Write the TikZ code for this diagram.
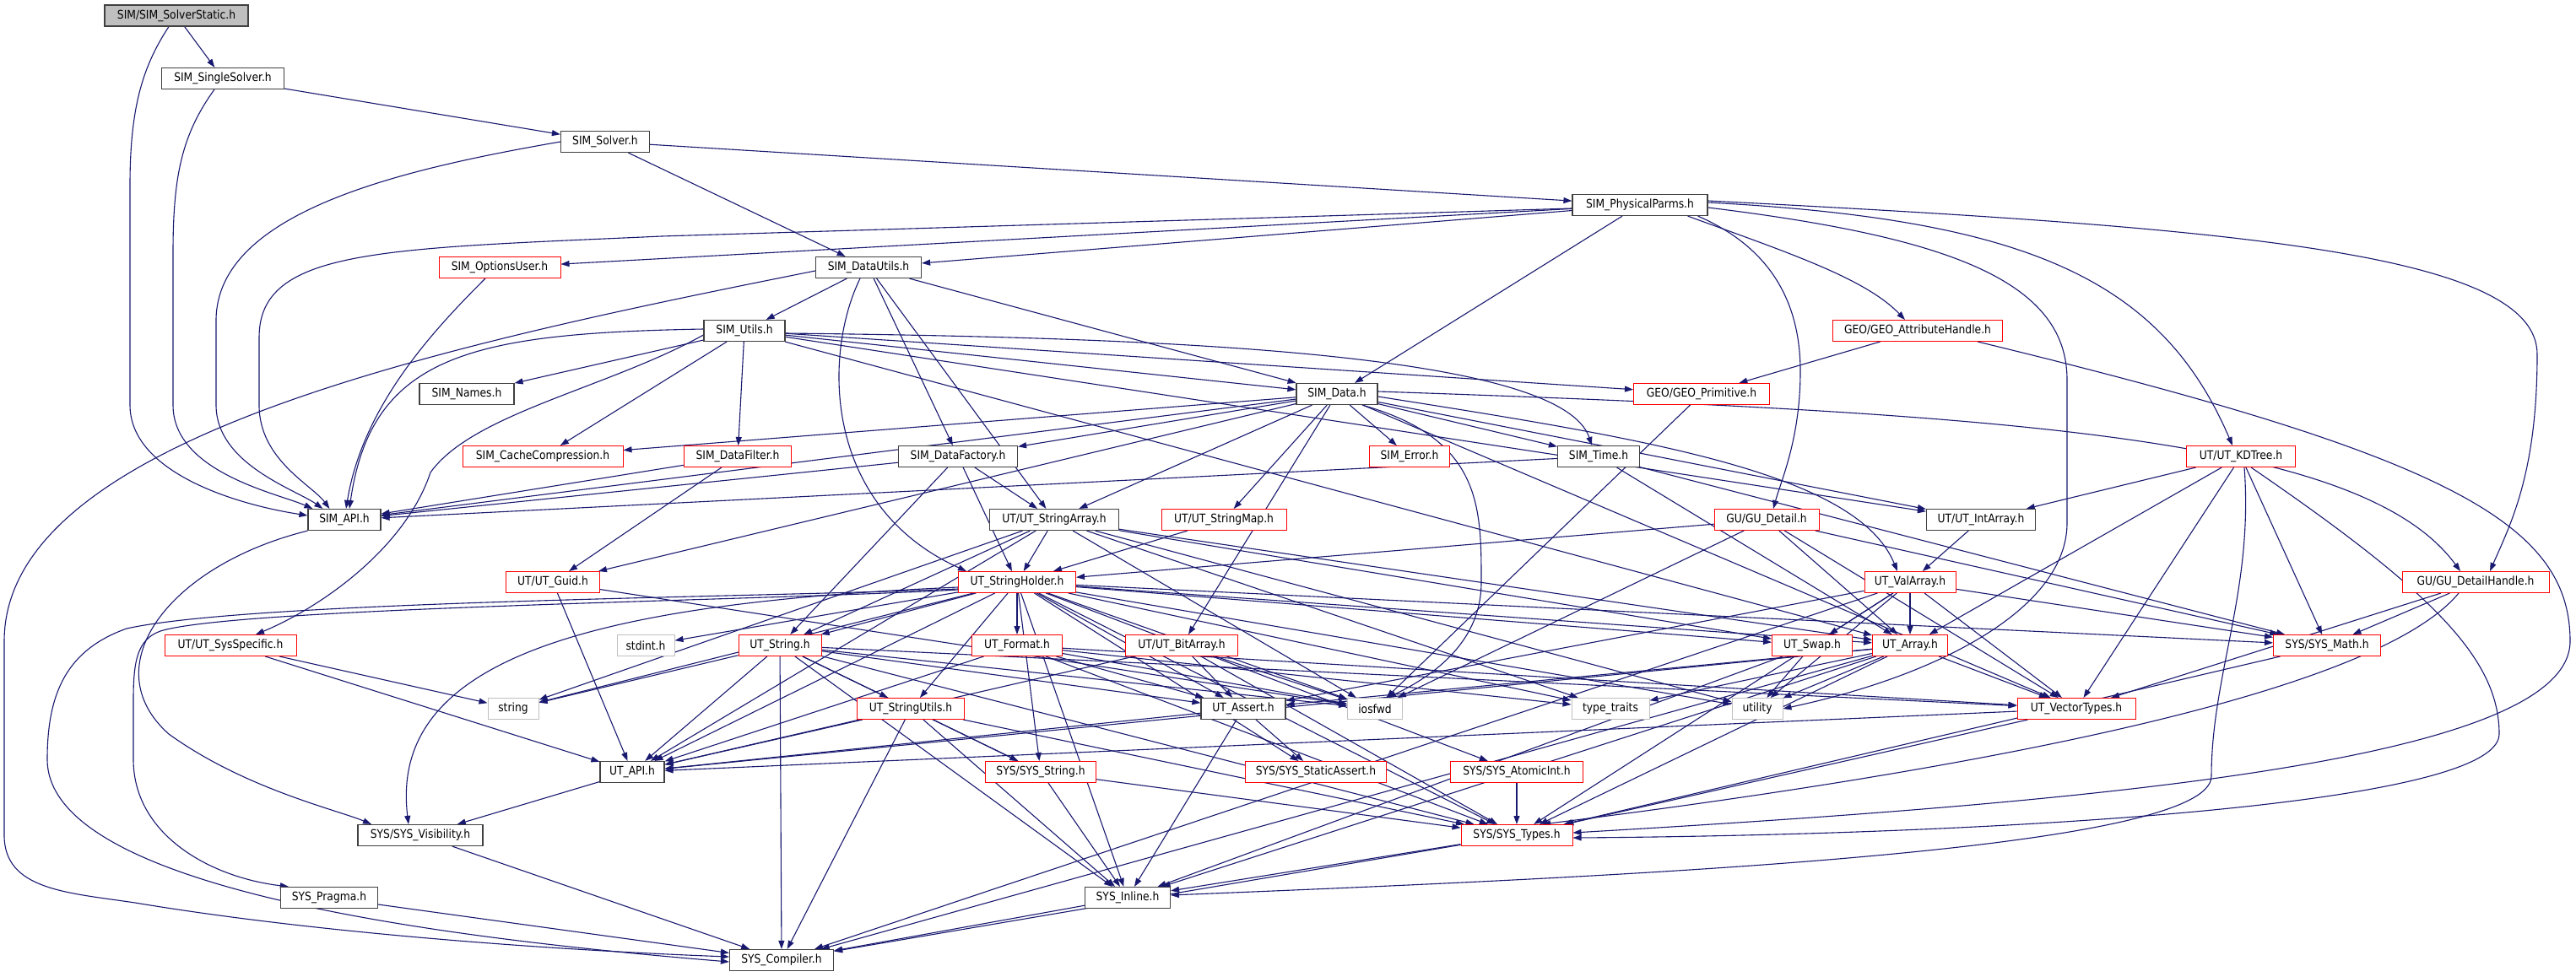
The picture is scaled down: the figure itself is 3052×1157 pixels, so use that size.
\documentclass[tikz,border=0pt]{standalone}
\usepackage{fontspec}
\setmainfont{DejaVu Sans}[FakeStretch=0.88]
\usetikzlibrary{arrows.meta}
\definecolor{edgec}{RGB}{25,25,112}
\definecolor{rootfill}{RGB}{191,191,191}
\definecolor{nodeb}{RGB}{64,64,64}
\definecolor{greyb}{RGB}{191,191,191}
\pgfdeclarelayer{bg}
\pgfsetlayers{bg,main}
\begin{document}
\begin{tikzpicture}[x=1pt,y=-1pt,
  >={Triangle[length=10pt,width=7pt]},
  e/.style={draw=edgec,line width=1.1pt,->},
  nb/.style={draw=nodeb,line width=1.2pt,fill=white,minimum height=25pt,inner sep=0pt,font=\fontsize{14}{16}\selectfont},
  nr/.style={nb,draw=red,line width=1pt},
  ng/.style={nb,draw=greyb,line width=1pt},
  nroot/.style={nb,fill=rootfill}]
\useasboundingbox (0,0) rectangle (3052,1157);
% nodes
\node[nroot,minimum width=170pt] (ss) at (209,18.5) {SIM/SIM\_SolverStatic.h};
\node[nb,minimum width=145pt] (single) at (264,93) {SIM\_SingleSolver.h};
\node[nb,minimum width=105pt] (solver) at (717,168) {SIM\_Solver.h};
\node[nb,minimum width=160pt] (phys) at (1943,243) {SIM\_PhysicalParms.h};
\node[nr,minimum width=144pt] (opt) at (592,317) {SIM\_OptionsUser.h};
\node[nb,minimum width=125pt] (du) at (1029,317) {SIM\_DataUtils.h};
\node[nb,minimum width=96pt] (utils) at (882,392) {SIM\_Utils.h};
\node[nr,minimum width=201pt] (gah) at (2272,392) {GEO/GEO\_AttributeHandle.h};
\node[nb,minimum width=112pt] (names) at (553,467) {SIM\_Names.h};
\node[nb,minimum width=96pt] (data) at (1584,467) {SIM\_Data.h};
\node[nr,minimum width=161pt] (gprim) at (2016,467) {GEO/GEO\_Primitive.h};
\node[nr,minimum width=190pt] (cache) at (643,541) {SIM\_CacheCompression.h};
\node[nr,minimum width=127pt] (filter) at (874,541) {SIM\_DataFilter.h};
\node[nb,minimum width=141pt] (factory) at (1135,541) {SIM\_DataFactory.h};
\node[nr,minimum width=95pt] (err) at (1670,541) {SIM\_Error.h};
\node[nb,minimum width=97pt] (time) at (1894,541) {SIM\_Time.h};
\node[nr,minimum width=129pt] (kd) at (2655,541) {UT/UT\_KDTree.h};
\node[nb,minimum width=86pt] (api) at (408,616) {SIM\_API.h};
\node[nb,minimum width=153pt] (sarr) at (1249,616) {UT/UT\_StringArray.h};
\node[nr,minimum width=148pt] (smap) at (1450,616) {UT/UT\_StringMap.h};
\node[nr,minimum width=124pt] (gud) at (2093,616) {GU/GU\_Detail.h};
\node[nb,minimum width=129pt] (iarr) at (2347,616) {UT/UT\_IntArray.h};
\node[nr,minimum width=111pt] (guid) at (655,690) {UT/UT\_Guid.h};
\node[nr,minimum width=139pt] (sh) at (1205,690) {UT\_StringHolder.h};
\node[nr,minimum width=108pt] (varr) at (2263,690) {UT\_ValArray.h};
\node[nr,minimum width=174pt] (gudh) at (2933,690) {GU/GU\_DetailHandle.h};
\node[nr,minimum width=156pt] (sysspec) at (273,765) {UT/UT\_SysSpecific.h};
\node[ng,minimum width=68pt] (stdint) at (765,765) {stdint.h};
\node[nr,minimum width=98pt] (ustr) at (924,765) {UT\_String.h};
\node[nr,minimum width=107pt] (fmt) at (1205,765) {UT\_Format.h};
\node[nr,minimum width=133pt] (bitarr) at (1400,765) {UT/UT\_BitArray.h};
\node[nr,minimum width=95pt] (swap) at (2147,765) {UT\_Swap.h};
\node[nr,minimum width=89pt] (arr) at (2263,765) {UT\_Array.h};
\node[nr,minimum width=127pt] (smath) at (2757,765) {SYS/SYS\_Math.h};
\node[ng,minimum width=60pt] (string) at (608,840) {string};
\node[nr,minimum width=127pt] (sutil) at (1079,840) {UT\_StringUtils.h};
\node[nb,minimum width=100pt] (assert) at (1473,840) {UT\_Assert.h};
\node[ng,minimum width=65pt] (iosfwd) at (1629,840) {iosfwd};
\node[ng,minimum width=92pt] (ttraits) at (1908,840) {type\_traits};
\node[ng,minimum width=60pt] (utility) at (2082,840) {utility};
\node[nr,minimum width=140pt] (vtypes) at (2460,840) {UT\_VectorTypes.h};
\node[nb,minimum width=76pt] (utapi) at (749,915) {UT\_API.h};
\node[nr,minimum width=131pt] (sysstr) at (1233,915) {SYS/SYS\_String.h};
\node[nr,minimum width=167pt] (sassert) at (1559,915) {SYS/SYS\_StaticAssert.h};
\node[nr,minimum width=157pt] (atomic) at (1797,915) {SYS/SYS\_AtomicInt.h};
\node[nb,minimum width=148pt] (vis) at (498,990) {SYS/SYS\_Visibility.h};
\node[nr,minimum width=132pt] (stypes) at (1797,990) {SYS/SYS\_Types.h};
\node[nb,minimum width=115pt] (pragma) at (390,1064) {SYS\_Pragma.h};
\node[nb,minimum width=101pt] (inline) at (1336,1064) {SYS\_Inline.h};
\node[nb,minimum width=123pt] (comp) at (926,1138) {SYS\_Compiler.h};
% edges
\begin{pgfonlayer}{bg}
\fill[white] (0,0) rectangle (3052,1157);
\foreach \a/\b in {ss/single, single/solver, solver/phys, solver/du, phys/opt, phys/du, phys/data,
  du/utils, du/data, du/factory, du/sarr, utils/names, utils/cache, utils/filter, utils/data, utils/gprim,
  utils/arr, utils/iarr, gah/gprim, data/api, data/cache, data/factory, data/err, data/time, data/sarr,
  data/smap, data/iarr, data/guid, data/bitarr, data/vtypes, gprim/iosfwd, filter/api, filter/guid,
  factory/api, factory/sarr, factory/sh, factory/ustr, time/api, time/arr, time/smath, kd/iarr, kd/arr,
  kd/smath, kd/vtypes, sarr/sh, sarr/ustr, sarr/utapi, sarr/string, sarr/iosfwd, sarr/swap, sarr/arr,
  sarr/ttraits, sarr/utility, smap/sh, gud/sh, gud/iosfwd, gud/arr, gud/vtypes, gud/smath, iarr/varr,
  guid/utapi, guid/iosfwd, sh/ustr, sh/fmt, sh/sutil, sh/assert, sh/utapi, sh/sysstr, sh/inline,
  sh/stypes, sh/smath, sh/swap, sh/arr, sh/iosfwd, sh/string, sh/stdint, sh/utility, sh/ttraits,
  sh/sassert, sh/atomic, varr/arr, varr/swap, varr/vtypes, varr/smath, varr/assert, varr/stypes,
  varr/comp, varr/utility, gudh/smath, gudh/vtypes, sysspec/string, sysspec/utapi, ustr/string,
  ustr/utapi, ustr/assert, ustr/sutil, ustr/sysstr, ustr/inline, ustr/comp, ustr/stypes, ustr/iosfwd,
  ustr/vtypes, fmt/utapi, fmt/assert, fmt/iosfwd, fmt/stypes, fmt/ttraits, fmt/vtypes, bitarr/utapi,
  bitarr/assert, bitarr/iosfwd, bitarr/stypes, swap/utility, swap/inline, arr/utapi, arr/assert,
  arr/vtypes, arr/utility, arr/ttraits, arr/stypes, arr/inline, arr/comp, smath/stypes, sutil/utapi,
  sutil/sysstr, sutil/stypes, sutil/inline, sutil/comp, assert/utapi, assert/inline, assert/sassert,
  vtypes/utapi, vtypes/stypes, utapi/vis, sysstr/stypes, sysstr/inline, atomic/stypes, vis/comp,
  stypes/inline, stypes/comp, pragma/comp, inline/comp}
  \draw[e] (\a) -- (\b);
% routed edges
\draw[e] ([xshift=-9pt]ss.south) .. controls (168,80) and (154,130) .. (154,220) -- (154,480) .. controls (154,560) and (280,598) .. ([yshift=5pt]api.west);
\draw[e] ([xshift=-10pt]single.south) .. controls (215,160) and (205,210) .. (205,300) -- (205,480) .. controls (205,560) and (330,585) .. ([xshift=6pt]api.north west);
\draw[e] (solver.west) .. controls (480,200) and (256,250) .. (256,380) -- (256,480) .. controls (256,550) and (350,580) .. ([xshift=18pt]api.north west);
\draw[e] ([yshift=-4pt]phys.west) -- (784,280) .. controls (450,295) and (307,295) .. (307,400) -- (307,480) .. controls (307,545) and (370,575) .. ([xshift=26pt]api.north west);
\draw[e] ([xshift=-17pt]opt.south) .. controls (515,390) and (430,480) .. ([xshift=2pt]api.north);
\draw[e] ([yshift=2pt]utils.west) .. controls (560,395) and (440,420) .. ([xshift=6pt]api.north);
\draw[e] ([yshift=-4pt]du.west) .. controls (520,410) and (5,520) .. (5,760) -- (5,990) .. controls (5,1055) and (80,1058) .. (160,1070) .. controls (400,1110) and (700,1128) .. ([yshift=4pt]comp.west);
\draw[e] ([xshift=-10pt]du.south) .. controls (975,420) and (975,600) .. ([xshift=-60pt]sh.north);
\draw[e] ([yshift=-5pt]utils.west) .. controls (720,460) and (560,490) .. (510,560) .. controls (480,650) and (380,720) .. ([xshift=30pt]sysspec.north);
\draw[e] ([yshift=-3pt]utils.east) .. controls (1400,400) and (1850,420) .. ([xshift=-8pt]time.north);
\draw[e] ([xshift=-12pt]phys.south east) .. controls (2090,290) and (2133,350) .. (2133,440) .. controls (2133,520) and (2110,570) .. ([xshift=8pt]gud.north);
\draw[e] ([xshift=-24pt]phys.south east) .. controls (2120,300) and (2210,330) .. ([xshift=-15pt]gah.north);
\draw[e] ([yshift=3pt]phys.east) .. controls (2400,260) and (2560,330) .. ([xshift=-10pt]kd.north);
\draw[e] ([yshift=5pt]phys.east) .. controls (2650,270) and (3006,300) .. (3006,420) .. controls (3006,560) and (2975,620) .. ([xshift=17pt]gudh.north);
\draw[e] ([yshift=-3pt]phys.east) .. controls (2300,280) and (2449,330) .. (2449,450) -- (2449,620) .. controls (2449,720) and (2300,800) .. (utility.east);
\draw[e] ([yshift=3pt]data.east) .. controls (2400,490) and (2800,520) .. ([xshift=-18pt]gudh.north);
\draw[e] ([yshift=-3pt]data.east) .. controls (1950,520) and (2200,560) .. ([xshift=-15pt]varr.north);
\draw[e] ([xshift=30pt]data.south) .. controls (1755,520) and (1755,600) .. (1755,690) .. controls (1755,760) and (1700,800) .. ([xshift=15pt]iosfwd.north);
\draw[e] ([xshift=-30pt]gah.south east) .. controls (2900,540) and (3045,620) .. (3045,760) .. controls (3045,900) and (2500,950) .. ([yshift=3pt]stypes.east);
\draw[e] ([xshift=12pt]kd.south) .. controls (2880,700) and (2961,780) .. (2961,870) .. controls (2961,960) and (2300,990) .. ([yshift=-3pt]stypes.east);
\draw[e] ([xshift=4pt]kd.south) .. controls (2670,700) and (2620,800) .. (2620,920) .. controls (2620,1010) and (1900,1040) .. ([yshift=3pt]inline.east);
\draw[e] ([xshift=-20pt]gudh.south) .. controls (2800,840) and (2200,930) .. ([xshift=30pt]stypes.north);
\draw[e] (api.south west) .. controls (200,670) and (110,790) .. (200,870) .. controls (290,935) and (400,960) .. ([xshift=-58pt]vis.north);
\draw[e] ([yshift=-6pt]sh.west) .. controls (700,715) and (460,780) .. ([xshift=-14pt]vis.north);
\draw[e] ([yshift=-8pt]sh.west) .. controls (900,708) and (300,712) .. (150,745) .. controls (80,770) and (56,820) .. (56,900) .. controls (56,1050) and (500,1110) .. ([yshift=-2pt]comp.west);
\draw[e] ([yshift=-9pt]sh.west) .. controls (900,712) and (280,720) .. (190,748) .. controls (162,758) and (158,785) .. (158,830) -- (158,900) .. controls (158,990) and (250,1040) .. ([xshift=10pt]pragma.north west);
\end{pgfonlayer}
\end{tikzpicture}
\end{document}
